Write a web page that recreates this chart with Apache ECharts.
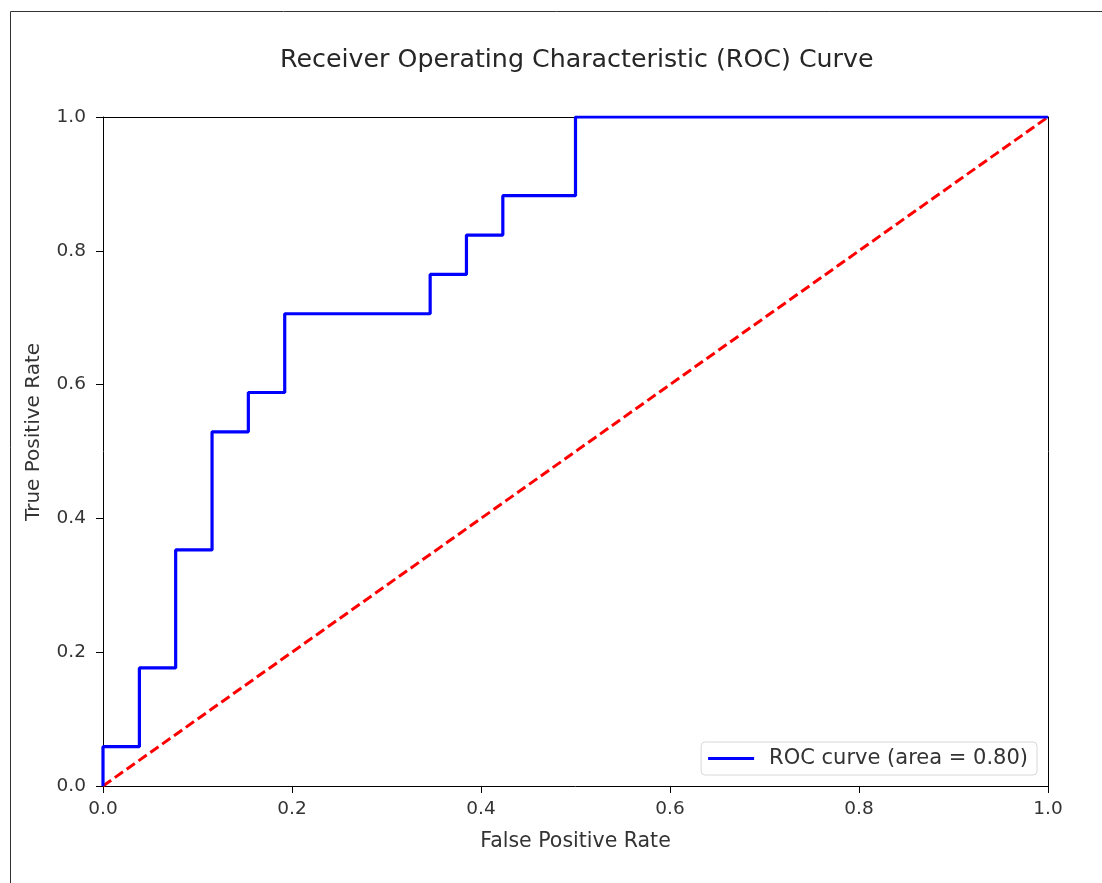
<!DOCTYPE html>
<html>
<head>
<meta charset="utf-8">
<script src="https://cdn.jsdelivr.net/npm/echarts@6/dist/echarts.min.js"></script>
<style>
html,body{margin:0;padding:0;background:#fff;}
#chart{width:1102px;height:883px;}
</style>
</head>
<body>
<div id="chart"></div>
<script>
const fpr = [0, 0, 0.0385, 0.0385, 0.0769, 0.0769, 0.1154, 0.1154, 0.1538, 0.1538, 0.1923, 0.1923, 0.3462, 0.3462, 0.3846, 0.3846, 0.4231, 0.4231, 0.5, 0.5, 1.0];
const tpr = [0, 0.0588, 0.0588, 0.1765, 0.1765, 0.3529, 0.3529, 0.5294, 0.5294, 0.5882, 0.5882, 0.7059, 0.7059, 0.7647, 0.7647, 0.8235, 0.8235, 0.8824, 0.8824, 1.0, 1.0];
const chanceX = [0, 1];
const chanceY = [0, 1];
const rocAuc = 0.80;
const titleText = 'Receiver Operating Characteristic (ROC) Curve';
const xLabel = 'False Positive Rate';
const yLabel = 'True Positive Rate';

const FONT = 'DejaVu Sans';
const chart = echarts.init(document.getElementById('chart'), null, {renderer: 'canvas'});
const rocName = 'ROC curve (area = ' + rocAuc.toFixed(2) + ')';
const spine = {type: 'value', min: 0, max: 1, interval: 0.2,
  axisLine: {show: true, onZero: false, lineStyle: {color: '#000', width: 1}},
  axisTick: {show: false}, axisLabel: {show: false}, splitLine: {show: false}};
chart.setOption({
  animation: false,
  backgroundColor: '#fff',
  textStyle: {fontFamily: FONT},
  title: {
    text: titleText, left: 275, top: 43,
    textStyle: {fontFamily: FONT, fontSize: 25.3, fontWeight: 'normal', color: '#262626'}
  },
  graphic: [{
    type: 'rect', shape: {x: 10.5, y: 11.5, width: 1200, height: 1000},
    style: {fill: 'none', stroke: '#333', lineWidth: 1}, silent: true
  }, {
    type: 'text', x: 33.5, y: 432, rotation: Math.PI / 2,
    style: {text: yLabel, fontFamily: FONT, fontSize: 20, fill: '#333', align: 'center', verticalAlign: 'middle'},
    silent: true
  }],
  grid: {left: 103, right: 54, top: 117, bottom: 97, show: false},
  legend: {
    data: [{name: rocName, icon: 'path://M0,0 L46,0 L46,3 L0,3 Z'}],
    right: 65, bottom: 108,
    itemWidth: 46, itemHeight: 3, itemGap: 10,
    padding: [6, 9, 6, 7],
    borderColor: '#d8d8d8', borderWidth: 1, borderRadius: 4,
    backgroundColor: 'rgba(255,255,255,0.8)',
    textStyle: {fontFamily: FONT, fontSize: 21, color: '#333', padding: [0,0,0,10]}
  },
  xAxis: [{
    type: 'value', min: 0, max: 1, interval: 0.2, position: 'bottom',
    name: xLabel, nameLocation: 'middle', nameGap: 45,
    nameTextStyle: {fontFamily: FONT, fontSize: 20.5, color: '#333'},
    axisLine: {show: true, onZero: false, lineStyle: {color: '#000', width: 1}},
    axisTick: {show: true, length: 7, lineStyle: {color: '#000'}},
    axisLabel: {fontFamily: FONT, fontSize: 18.5, color: '#333', margin: 14, formatter: v => v.toFixed(1)},
    splitLine: {show: false}
  }, Object.assign({position: 'top'}, spine)],
  yAxis: [{
    type: 'value', min: 0, max: 1, interval: 0.2, position: 'left',
    axisLine: {show: true, onZero: false, lineStyle: {color: '#000', width: 1}},
    axisTick: {show: true, length: 7, lineStyle: {color: '#000'}},
    axisLabel: {fontFamily: FONT, fontSize: 18.5, color: '#333', margin: 17, formatter: v => v.toFixed(1)},
    splitLine: {show: false}
  }, Object.assign({position: 'right'}, spine)],
  series: [{
    name: rocName, type: 'line', symbol: 'none',
    data: fpr.map((x, i) => [x, tpr[i]]),
    lineStyle: {color: '#0000ff', width: 3.2},
    itemStyle: {color: '#0000ff'}, z: 3
  }, {
    name: 'chance', type: 'line', symbol: 'none',
    data: chanceX.map((x, i) => [x, chanceY[i]]),
    lineStyle: {color: '#ff0000', width: 3, type: [10, 4.5]},
    itemStyle: {color: '#ff0000'}, z: 2
  }]
});
</script>
</body>
</html>
